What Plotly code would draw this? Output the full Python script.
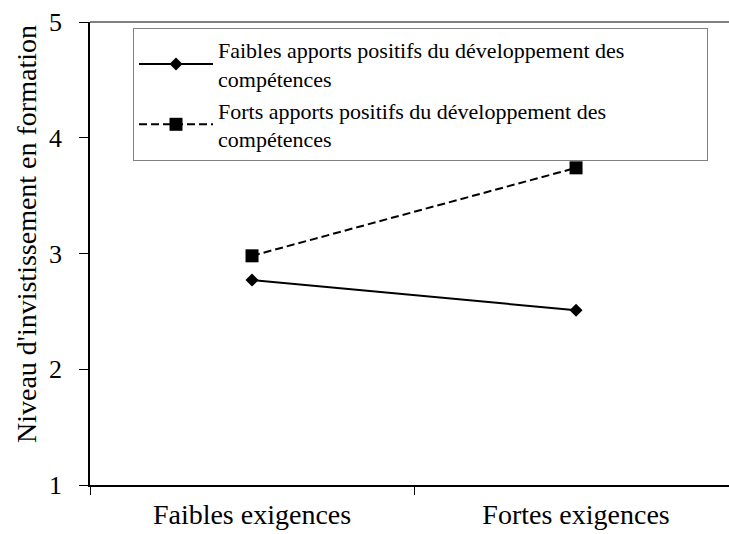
import plotly.graph_objects as go

categories = ["Faibles exigences", "Fortes exigences"]
faibles_apports = [2.77, 2.51]
forts_apports = [2.98, 3.74]
series_names = [
    "Faibles apports positifs du développement des<br>compétences",
    "Forts apports positifs du développement des<br>compétences",
]
y_ticks = [1, 2, 3, 4, 5]
y_title = "Niveau d'invistissement en formation"

FONT = "Liberation Serif, Times New Roman, serif"
PAD = "&nbsp;" * 14  # widens the legend box to the reference width

fig = go.Figure()
fig.add_trace(go.Scatter(
    x=categories, y=faibles_apports, name=series_names[0].replace("<br>", PAD + "<br>"),
    mode="lines+markers",
    line=dict(color="black", width=2),
    marker=dict(symbol="diamond", size=10, color="black"),
))
fig.add_trace(go.Scatter(
    x=categories, y=forts_apports, name=series_names[1].replace("<br>", PAD + "<br>"),
    mode="lines+markers",
    line=dict(color="black", width=2, dash="8px,4px"),
    marker=dict(symbol="square", size=13, color="black"),
))

fig.update_layout(
    width=729, height=534,
    margin=dict(l=90, r=0, t=22, b=49, autoexpand=False),
    plot_bgcolor="white", paper_bgcolor="white",
    font=dict(family=FONT, size=22, color="black"),
    showlegend=True,
    legend=dict(
        x=(133 - 90) / 639, y=1 - (28 - 22) / 463,
        xanchor="left", yanchor="top",
        itemwidth=74,
        bgcolor="white", bordercolor="#808080", borderwidth=1,
        font=dict(family=FONT, size=22, color="black"),
        tracegroupgap=0,
    ),
    xaxis=dict(
        type="category", range=[-0.5, 1.472],
        tickson="boundaries", ticks="outside", ticklen=8, tickcolor="black",
        showline=True, linecolor="black", linewidth=1.5,
        showgrid=False, zeroline=False,
        ticklabelstandoff=4, tickangle=0,
        tickfont=dict(family=FONT, size=28, color="black"),
    ),
    yaxis=dict(
        range=[1, 5], tickvals=y_ticks,
        ticks="outside", ticklen=9, tickcolor="black",
        showline=True, linecolor="black", linewidth=1.5,
        showgrid=False, zeroline=False,
        ticklabelstandoff=12,
        tickfont=dict(family=FONT, size=26, color="black"),
    ),
    shapes=[dict(type="line", xref="paper", yref="paper", x0=0, x1=1, y0=1, y1=1,
                 line=dict(color="#808080", width=2))],
    annotations=[dict(
        text=y_title, textangle=-90, showarrow=False,
        xref="paper", yref="paper",
        x=(26 - 90) / 639, y=(485 - 234) / 463,
        xanchor="center", yanchor="middle",
        font=dict(family=FONT, size=28, color="black"),
    )],
)

fig.write_html("out.html", config={"displayModeBar": False},
               post_script="document.body.style.margin='0';")
